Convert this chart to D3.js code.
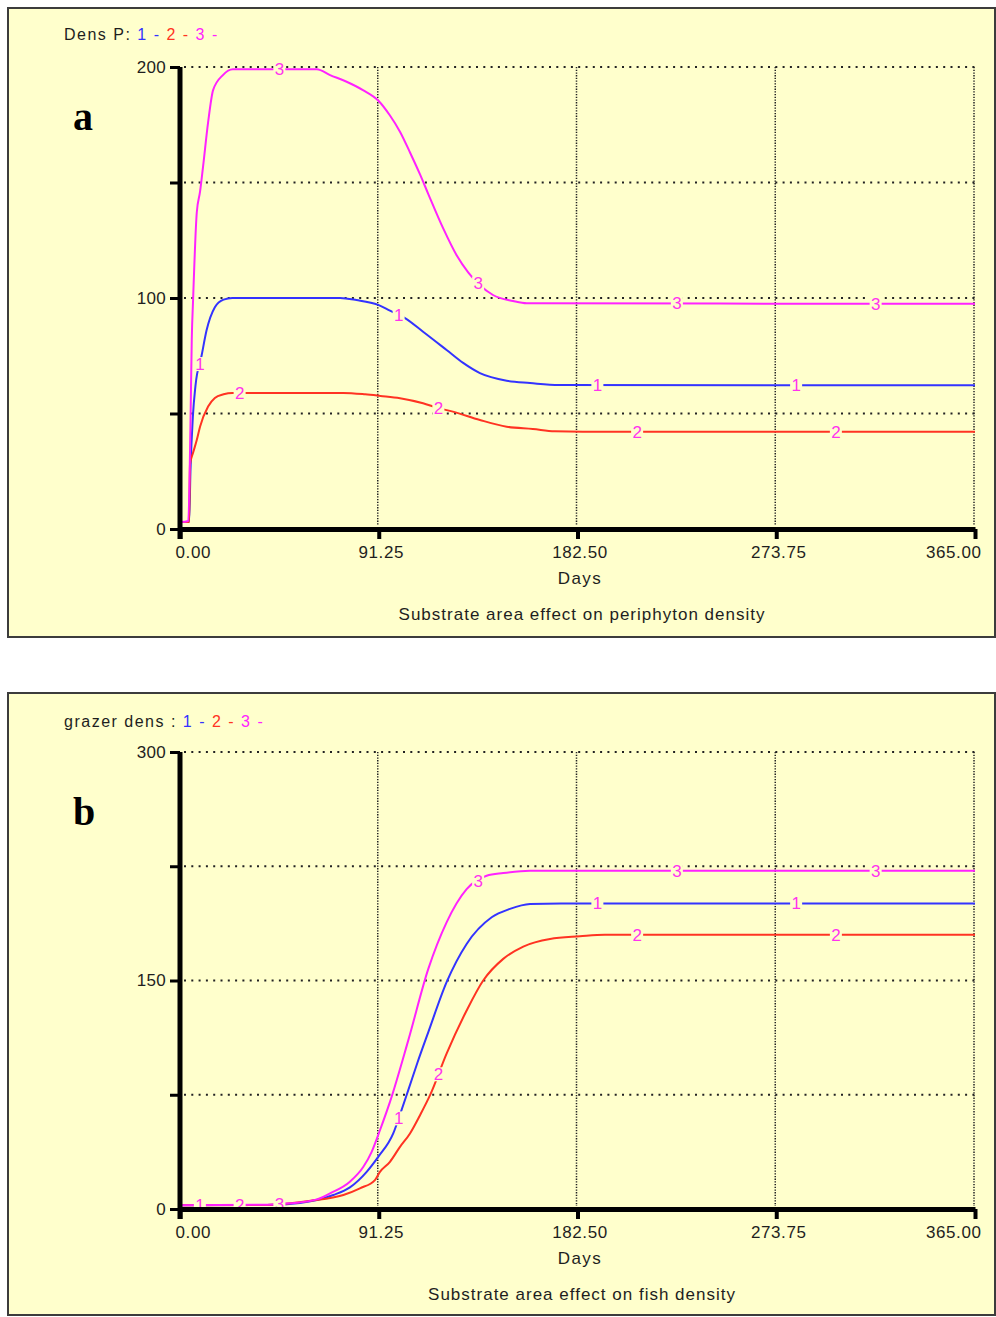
<!DOCTYPE html>
<html><head><meta charset="utf-8">
<script src="https://cdn.jsdelivr.net/npm/d3@7"></script>
<style>body{margin:0;background:#fff}</style>
</head><body>
<svg id="c" width="996" height="1317"></svg>
<script>
// ---------- data ----------
const xTickValues = [0, 91.25, 182.5, 273.75, 365];
const xTickLabels = ["0.00", "91.25", "182.50", "273.75", "365.00"];
const seriesNames = ["1", "2", "3"];
// days at which the series number is written on each line
const labelDays = [
  [9.125, 100.375, 191.625, 282.875],
  [27.375, 118.625, 209.875, 301.125],
  [45.625, 136.875, 228.125, 319.375]
];

// panel a : Dens P
const densPTicks = [0, 50, 100, 150, 200];
const densPTickLabels = ["0", "", "100", "", "200"];
const densP1 = [[0,3],[4.2,3],[4.8,25],[5.9,48.6],[7.1,62],[9.9,75],[12.2,86],[16,96],[20,99.3],[24,100],[73.5,100],[81,99.1],[91,97],[96.4,94.5],[103.3,91.3],[111.6,85.4],[122.4,77.5],[130,71.9],[137.7,67.5],[150,64.2],[160.7,63.2],[174,62.3],[365,62.2]];
const densP2 = [[0,3],[4.2,3],[4.6,28],[6,33],[7.7,38.5],[9.2,44.3],[12.9,53],[16,56.7],[20,58.3],[24,58.9],[75,58.9],[85,58.3],[92,57.6],[101,56.6],[111.6,54.4],[118,52.5],[125.3,50.8],[137.7,47.2],[150,44.3],[162,43.3],[172,42.3],[185,42.1],[365,42.1]];
const densP3 = [[0,3],[3.8,3.5],[4.8,45],[5.4,82],[6,99],[7.7,137],[9.2,146],[10.6,157],[12.9,176],[15.2,190],[19.7,196.5],[24.3,199],[62.8,199],[68.9,196.5],[76.5,193.6],[84,190],[91,185.5],[96.4,179],[101,172],[105.6,163],[110.2,153.5],[114,145],[120.9,130],[127,118.5],[132.4,111],[137.7,105.5],[143.7,101.3],[152.9,98.7],[159.2,97.7],[365,97.5]];

// panel b : grazer dens
const grazerTicks = [0, 75, 150, 225, 300];
const grazerTickLabels = ["0", "", "150", "", "300"];
const grazer1 = [[0,2.5],[40,2.7],[55,4],[70.4,9.2],[78,14.2],[85.7,24.4],[91,34.2],[97.9,49.6],[101,62],[104.8,78],[109,96],[114,116.1],[122.4,148.9],[131.6,174],[143.1,191.5],[151.5,197],[160.7,200.2],[175,200.6],[365,200.6]];
const grazer2 = [[0,2.5],[40,2.7],[60,5.4],[75,9.2],[82.6,13.6],[89.5,19],[91.8,24.4],[96.4,31],[101,40.8],[105.6,49.6],[110.2,61.6],[114.8,74.7],[122.4,102],[131.6,130.3],[139.2,150],[148.4,164.2],[157.6,172.3],[169.9,177.3],[183.6,179],[195,180],[365,180]];
const grazer3 = [[0,2.5],[40,2.8],[50.5,3.7],[62.8,6.3],[68.9,10.3],[78,17.9],[84.2,27.7],[88,37.5],[91.8,51.7],[96.4,70.3],[104.8,110.7],[114,157.6],[122.4,188.2],[131.6,210],[140.8,218.8],[148.4,220.5],[160.7,222],[365,222]];

// ---------- style ----------
const BG = "#ffffcc";
const colors = ["#3333ff", "#ff3322", "#ff22ff"];
const labelColor = "#ff33ee";
const FONT = "'Liberation Sans', Arial, sans-serif";
const textColor = "#1e1e1e";

const svg = d3.select("#c");

function interp(data, d) {
  for (let i = 1; i < data.length; i++) {
    if (d <= data[i][0]) {
      const [x0, y0] = data[i - 1], [x1, y1] = data[i];
      return y0 + (y1 - y0) * (d - x0) / (x1 - x0);
    }
  }
  return data[data.length - 1][1];
}

function drawPanel(cfg) {
  const g = svg.append("g");
  g.append("rect").attr("x", cfg.box[0]).attr("y", cfg.box[1])
    .attr("width", cfg.box[2]).attr("height", cfg.box[3])
    .attr("fill", BG).attr("stroke", "#3c3c3c").attr("stroke-width", 2);

  const x = d3.scaleLinear().domain([0, 365]).range([180, 975]);
  const y = d3.scaleLinear().domain([0, cfg.yMax]).range([cfg.y0, cfg.yTop]);

  // grid
  const grid = g.append("g");
  grid.selectAll("line.h").data(cfg.yTicks.filter(d => d > 0)).enter().append("line")
    .attr("x1", 184).attr("x2", 975).attr("y1", d => y(d)).attr("y2", d => y(d))
    .attr("stroke", "#222").attr("stroke-width", 2).attr("stroke-dasharray", "2,5.3");
  grid.selectAll("line.v").data(xTickValues.filter(d => d > 0)).enter().append("line")
    .attr("x1", d => x(d) - 1).attr("x2", d => x(d) - 1).attr("y1", cfg.yTop).attr("y2", cfg.y0 - 3)
    .attr("stroke", "#222").attr("stroke-width", 1.5).attr("stroke-dasharray", "1.3,1.4");

  // lines
  const line = d3.line().x(d => x(d[0])).y(d => y(d[1])).curve(d3.curveMonotoneX);
  cfg.series.forEach((s, i) => {
    g.append("path").datum(s).attr("d", line).attr("fill", "none")
      .attr("stroke", colors[i]).attr("stroke-width", 2);
  });
  // series number labels
  cfg.series.forEach((s, i) => {
    labelDays[i].forEach(d => {
      const px = x(d), py = y(interp(s, d));
      g.append("rect").attr("x", px - 6).attr("y", py - 7).attr("width", 12).attr("height", 14).attr("fill", BG);
      g.append("text").attr("x", px).attr("y", py + 6).attr("text-anchor", "middle")
        .attr("font-family", FONT).attr("font-size", 17).attr("fill", labelColor).text(seriesNames[i]);
    });
  });

  // axes
  const xAxis = d3.axisBottom(x).tickValues(xTickValues).tickSize(10).tickSizeOuter(0).tickPadding(7)
    .tickFormat((d, i) => xTickLabels[i]);
  const xa = g.append("g").attr("transform", `translate(0,${cfg.y0})`).call(xAxis);
  xa.select(".domain").attr("stroke", "#000").attr("stroke-width", 5);
  xa.selectAll(".tick line").attr("stroke", "#000").attr("stroke-width", 4);
  xa.selectAll(".tick text").attr("font-family", FONT).attr("font-size", 17).attr("fill", textColor)
    .attr("letter-spacing", "0.6px")
    .attr("text-anchor", (d, i) => i === 0 ? "start" : (i === xTickValues.length - 1 ? "end" : "middle"))
    .attr("dx", (d, i) => i === 0 ? -5 : (i === xTickValues.length - 1 ? 6 : 2));

  const yAxis = d3.axisLeft(y).tickValues(cfg.yTicks).tickSize(10).tickSizeOuter(0).tickPadding(4)
    .tickFormat((d, i) => cfg.yTickLabels[i]);
  const ya = g.append("g").attr("transform", "translate(180,0)").call(yAxis);
  ya.select(".domain").attr("stroke", "#000").attr("stroke-width", 5)
    .attr("d", `M0,${cfg.yTop}V${cfg.y0 + 10}`);
  ya.selectAll(".tick line").attr("stroke", "#000").attr("stroke-width", 3);
  ya.selectAll(".tick text").attr("font-family", FONT).attr("font-size", 17).attr("fill", textColor)
    .attr("letter-spacing", "0.3px");

  // titles
  g.append("text").attr("x", 580).attr("y", cfg.y0 + 55).attr("text-anchor", "middle")
    .attr("font-family", FONT).attr("font-size", 17).attr("letter-spacing", "1.5px").attr("fill", textColor).text("Days");
  g.append("text").attr("x", 582).attr("y", cfg.y0 + 91).attr("text-anchor", "middle")
    .attr("font-family", FONT).attr("font-size", 17).attr("letter-spacing", "1px").attr("fill", textColor).text(cfg.subtitle);

  // legend
  const lg = g.append("text").attr("x", 64).attr("y", cfg.legendY)
    .attr("font-family", FONT).attr("font-size", 16).attr("letter-spacing", "1.5px");
  lg.append("tspan").attr("fill", textColor).text(cfg.legendName + " ");
  seriesNames.forEach((n, i) => {
    lg.append("tspan").attr("fill", colors[i]).text(n + " - ");
  });

  // panel letter
  g.append("text").attr("x", 73).attr("y", cfg.letterY)
    .attr("font-family", "'Liberation Serif', 'Times New Roman', serif").attr("font-weight", "bold")
    .attr("font-size", 40).attr("fill", "#000").text(cfg.letter);
}

drawPanel({
  box: [8, 8, 987, 629], yTop: 67, y0: 529, yMax: 200,
  yTicks: densPTicks, yTickLabels: densPTickLabels,
  series: [densP1, densP2, densP3],
  legendName: "Dens P:", legendY: 40, letter: "a", letterY: 130,
  subtitle: "Substrate area effect on periphyton density"
});
drawPanel({
  box: [8, 693, 987, 622], yTop: 752, y0: 1209, yMax: 300,
  yTicks: grazerTicks, yTickLabels: grazerTickLabels,
  series: [grazer1, grazer2, grazer3],
  legendName: "grazer dens :", legendY: 727, letter: "b", letterY: 825,
  subtitle: "Substrate area effect on fish density"
});
</script>
</body></html>
